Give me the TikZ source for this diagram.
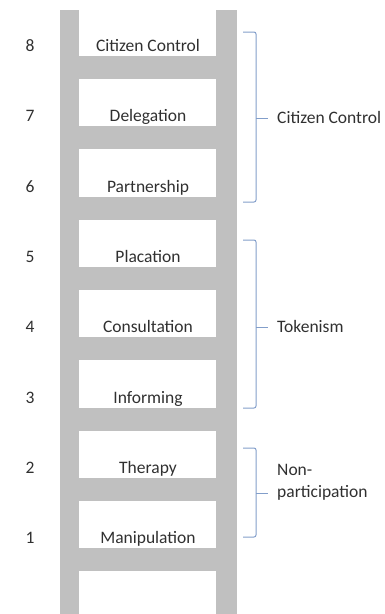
\documentclass[tikz,border=0pt]{standalone}
\usepackage{fontspec}
\setmainfont{Carlito}
\usepackage{tikz}
\tikzset{>=latex}
\definecolor{railgray}{RGB}{192,192,192}
\definecolor{bracecol}{RGB}{130,158,202}
\definecolor{txtgray}{RGB}{48,48,48}
\tikzset{
  rail/.style={fill=railgray},
  rung/.style={fill=railgray},
  bracket/.style={draw=bracecol, line width=1pt, rounded corners=2pt},
  steplabel/.style={font=\fontsize{17.5}{22}\selectfont, text=txtgray, inner sep=0pt, anchor=base},
  grouplabel/.style={font=\fontsize{17.5}{22}\selectfont, text=txtgray, inner sep=0pt, align=left},
}

\begin{document}
\begin{tikzpicture}[x=1pt, y=-1pt]
 \useasboundingbox (0,0) rectangle (384,614);

 % the two rails
 \fill[rail] (60,10) rectangle (79,614);
 \fill[rail] (216,10) rectangle (237,614);

 % rungs
 \foreach \k in {0,...,7}{
    \fill[rung] (79, 56+70.3*\k) rectangle (216, 79+70.3*\k);
 }

 % step names and numbers
 \foreach \k/\n/\t in {0/8/Citizen Control, 1/7/Delegation, 2/6/Partnership, 3/5/Placation,
                       4/4/Consultation, 5/3/Informing, 6/2/Therapy, 7/1/Manipulation}{
    \node[steplabel] (step\n) at (148, 51.5+70.3*\k) {\t};
    \node[steplabel] (num\n) at (30, 51.5+70.3*\k) {\n};
 }

 % brackets
 \foreach \a/\b/\m in {32/202/118, 240/408/327, 448/537/493}{
    \draw[bracket] (243,\a) -- (256,\a) -- (256,\b) -- (243,\b);
    \draw[bracket] (256,\m) -- (268,\m);
 }

 \node[grouplabel, anchor=base west] (control) at (277,123) {Citizen Control};
 \node[grouplabel, anchor=base west] (tokenism) at (277,332) {Tokenism};
 \node[grouplabel, anchor=west] (nonpart) at (277,482) {Non-\\participation};

\end{tikzpicture}
\end{document}
